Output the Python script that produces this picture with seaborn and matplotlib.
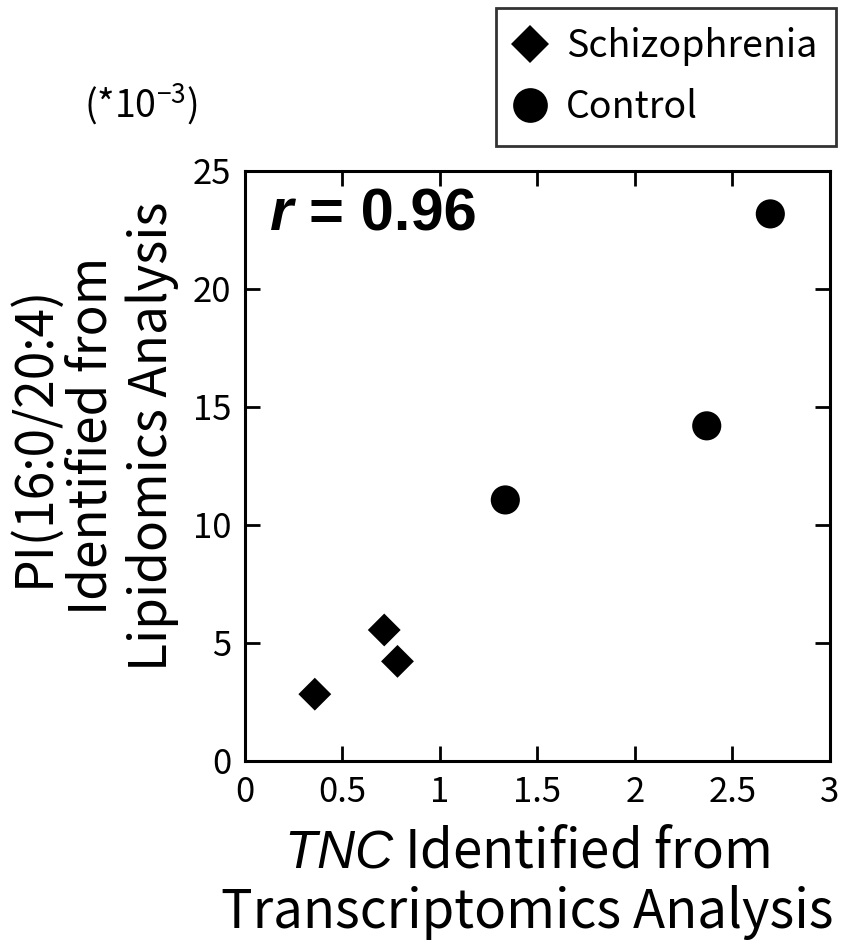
import matplotlib
matplotlib.use("Agg")
import matplotlib.pyplot as plt
import seaborn as sns
import pandas as pd

groups = ["Schizophrenia", "Schizophrenia", "Schizophrenia", "Control", "Control", "Control"]
tnc = [0.358, 0.714, 0.782, 1.335, 2.368, 2.694]
pi_vals = [2.83, 5.55, 4.22, 11.06, 14.2, 23.18]
x_ticks = [0, 0.5, 1, 1.5, 2, 2.5, 3]
x_tick_labels = ["0", "0.5", "1", "1.5", "2", "2.5", "3"]
y_ticks = [0, 5, 10, 15, 20, 25]
y_tick_labels = ["0", "5", "10", "15", "20", "25"]

df = pd.DataFrame({"group": groups, "tnc": tnc, "pi": pi_vals})

sns.set_theme(style="ticks", rc={"text.color": "black", "axes.labelcolor": "black",
                                 "xtick.color": "black", "ytick.color": "black",
                                 "axes.edgecolor": "black"})
plt.rcParams["font.family"] = ["Noto Sans CJK JP", "DejaVu Sans"]
plt.rcParams["mathtext.fontset"] = "custom"
plt.rcParams["mathtext.rm"] = "Noto Sans CJK JP"
plt.rcParams["mathtext.it"] = "Liberation Sans:italic"
plt.rcParams["mathtext.bf"] = "Liberation Sans:bold"

fig = plt.figure(figsize=(8.51, 9.46), dpi=100)
ax = fig.add_axes([0.2879, 0.1956, 0.6874, 0.6237])

sns.scatterplot(data=df, x="tnc", y="pi", hue="group", style="group", size="group",
                hue_order=["Schizophrenia", "Control"],
                style_order=["Schizophrenia", "Control"],
                size_order=["Schizophrenia", "Control"],
                palette={"Schizophrenia": "black", "Control": "black"},
                markers={"Schizophrenia": "D", "Control": "o"},
                sizes={"Schizophrenia": 280, "Control": 440},
                linewidth=0, ax=ax)

ax.set_xlim(0, 3)
ax.set_ylim(0, 25)
ax.set_xticks(x_ticks)
ax.set_xticklabels(x_tick_labels)
ax.set_yticks(y_ticks)
ax.set_yticklabels(y_tick_labels)
for lab in ax.get_xticklabels() + ax.get_yticklabels():
    lab.set_fontsize(25)
ax.tick_params(direction="in", length=11, width=2, top=True, right=True,
               colors="black", pad=10)
for sp in ax.spines.values():
    sp.set_linewidth(2.2)
    sp.set_color("black")
    sp.set_visible(True)

ax.set_xlabel("")
ax.set_ylabel("")
fig.text(0.619, 0.0825, r"$\mathit{TNC}$ Identified from", ha="center", va="baseline", fontsize=38)
fig.text(0.619, 0.019, "Transcriptomics Analysis", ha="center", va="baseline", fontsize=38)
for xpos, txt in [(0.0575, "PI(16:0/20:4)"), (0.1255, "Identified from"), (0.1960, "Lipidomics Analysis")]:
    fig.text(xpos, 0.539, txt, ha="center", va="baseline", rotation=90,
             rotation_mode="anchor", fontsize=37)
fig.text(0.165, 0.890, r"(*10$^{-3}$)", ha="center", va="center", fontsize=27)

fig.text(270 / 851, 1 - 215 / 946, "r", ha="left", va="center", fontsize=43,
         fontweight="bold", fontstyle="italic", family="Liberation Sans")
fig.text(309 / 851, 1 - 215 / 946, "= 0.96", ha="left", va="center", fontsize=43,
         fontweight="bold", family="Liberation Sans")

handles, labels = ax.get_legend_handles_labels()
leg = fig.legend(handles, labels, loc="upper right", bbox_to_anchor=(836 / 851, 1 - 8 / 946),
                 frameon=True, fancybox=False, fontsize=27, handletextpad=0.57,
                 borderpad=0.5, labelspacing=0.59, handlelength=0.8,
                 borderaxespad=0)
for h, lab in zip(leg.legend_handles, labels):
    if hasattr(h, "set_markersize"):
        h.set_markersize(25 if lab == "Control" else 19)
    elif hasattr(h, "set_sizes"):
        h.set_sizes([625 if lab == "Control" else 361])
leg.get_frame().set_edgecolor("black")
leg.get_frame().set_linewidth(2)
if ax.get_legend() is not None:
    ax.get_legend().remove()

fig.savefig("out.png", dpi=100, facecolor="white")
